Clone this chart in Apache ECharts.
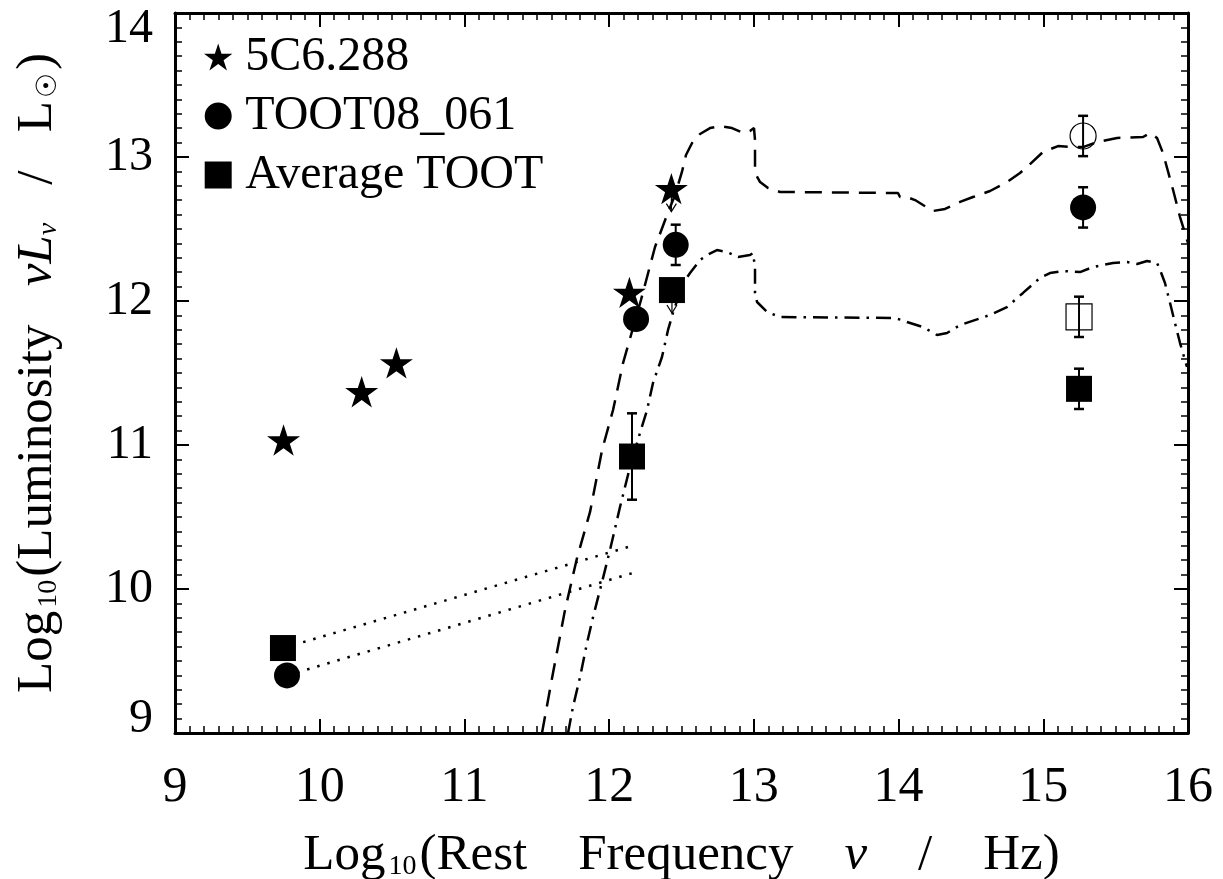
<!DOCTYPE html>
<html><head><meta charset="utf-8">
<script src="https://cdn.jsdelivr.net/npm/echarts@6/dist/echarts.min.js"></script>
<style>html,body{margin:0;padding:0;background:#fff}#c{width:1223px;height:879px}</style>
</head><body><div id="c"></div>
<script>
// ---- data ----
const xTicks = [9, 10, 11, 12, 13, 14, 15, 16];
const yTicks = [9, 10, 11, 12, 13, 14];
const legendNames = ['5C6.288', 'TOOT08_061', 'Average TOOT'];

const star5C6 = [[9.75, 11.035], [10.29, 11.37], [10.53, 11.57], [12.14, 12.06], [12.43, 12.78]];
const star5C6Limits = [[12.43, 12.78]];

const toot08 = [[9.774, 9.40], [12.186, 11.875], [12.46, 12.39], [15.275, 12.65]];
const toot08Open = [[15.275, 13.146]];
const toot08Err = [[12.46, 12.39, 0.14], [15.275, 12.65, 0.14], [15.275, 13.146, 0.14]];

const avgToot = [[9.746, 9.59], [12.158, 10.92], [12.434, 12.076], [15.247, 11.39]];
const avgTootOpen = [[15.247, 11.89]];
const avgTootErr = [[12.158, 10.92, 0.30], [15.247, 11.39, 0.14], [15.247, 11.89, 0.14]];
const avgTootLimits = [[12.434, 12.076]];

const dottedUpper = [[9.746, 9.59], [12.16, 10.30]];
const dottedLower = [[9.774, 9.40], [12.16, 10.11]];

const dashedTemplate = [[11.536,9.000],[11.612,9.417],[11.695,9.854],[11.778,10.215],[11.868,10.535],[11.951,10.965],[12.027,11.243],[12.096,11.569],[12.220,12.007],[12.317,12.375],[12.400,12.597],[12.455,12.736],[12.503,12.896],[12.531,13.014],[12.573,13.097],[12.628,13.160],[12.697,13.201],[12.766,13.215],[12.849,13.201],[12.925,13.167],[12.973,13.181],[13.001,13.201],[13.008,13.118],[13.008,12.889],[13.043,12.826],[13.098,12.785],[13.181,12.757],[13.962,12.750],[13.996,12.750],[14.010,12.722],[14.058,12.722],[14.114,12.701],[14.169,12.667],[14.238,12.625],[14.321,12.639],[14.425,12.688],[14.514,12.722],[14.632,12.764],[14.749,12.826],[14.839,12.889],[14.888,12.931],[14.998,13.035],[15.102,13.076],[15.199,13.069],[15.275,13.069],[15.371,13.104],[15.510,13.132],[15.689,13.139],[15.738,13.167],[15.786,13.132],[15.827,13.028],[15.897,12.771],[15.945,12.583],[16.0,12.403]];

const dashDotTemplate = [[11.716,9.000],[11.750,9.181],[11.799,9.389],[11.847,9.625],[11.889,9.806],[11.951,10.049],[12.006,10.271],[12.075,10.569],[12.144,10.847],[12.213,11.083],[12.262,11.243],[12.303,11.431],[12.365,11.611],[12.407,11.799],[12.441,11.917],[12.511,12.125],[12.559,12.194],[12.628,12.285],[12.676,12.319],[12.745,12.354],[12.815,12.340],[12.891,12.306],[12.973,12.319],[12.994,12.333],[13.008,12.236],[13.008,12.056],[13.022,11.993],[13.091,11.924],[13.181,11.889],[13.962,11.882],[14.024,11.868],[14.058,11.854],[14.169,11.819],[14.266,11.764],[14.335,11.778],[14.425,11.833],[14.632,11.903],[14.749,11.958],[14.860,12.056],[14.977,12.160],[15.046,12.194],[15.136,12.208],[15.254,12.201],[15.344,12.236],[15.482,12.264],[15.579,12.271],[15.648,12.257],[15.717,12.278],[15.786,12.264],[15.807,12.215],[15.841,12.125],[15.876,11.986],[15.910,11.847],[15.945,11.708],[15.993,11.542]];

// ---- styling ----
const FONT = '"Liberation Serif", "DejaVu Serif", serif';
const STAR = 'path://M100,0 L122.36,69.26 L195.11,69.1 L136.14,111.74 L158.78,180.9 L100,138 L41.22,180.9 L63.86,111.74 L4.89,69.1 L77.64,69.26 Z';
const SQUARE = 'path://M0,0 L10,0 L10,10 L0,10 Z';
const BLACK = '#000';

function renderErr(params, api) {
  const x = api.value(0), y = api.value(1), e = api.value(2);
  const top = api.coord([x, y + e]), bot = api.coord([x, y - e]);
  const w = 5;
  return { type: 'group', children: [
    { type: 'line', shape: { x1: top[0], y1: top[1], x2: bot[0], y2: bot[1] }, style: { stroke: BLACK, lineWidth: 2 } },
    { type: 'line', shape: { x1: top[0] - w, y1: top[1], x2: top[0] + w, y2: top[1] }, style: { stroke: BLACK, lineWidth: 2.5 } },
    { type: 'line', shape: { x1: bot[0] - w, y1: bot[1], x2: bot[0] + w, y2: bot[1] }, style: { stroke: BLACK, lineWidth: 2.5 } }
  ]};
}
function renderArrow(params, api) {
  const c = api.coord([api.value(0), api.value(1)]);
  const tip = c[1] + 23;
  return { type: 'group', children: [
    { type: 'line', shape: { x1: c[0], y1: c[1], x2: c[0], y2: tip }, style: { stroke: BLACK, lineWidth: 1.2 } },
    { type: 'polyline', shape: { points: [[c[0] - 5, tip - 8], [c[0], tip], [c[0] + 5, tip - 8]] }, style: { stroke: BLACK, fill: null, lineWidth: 1.2 } }
  ]};
}

const axisCommon = {
  interval: 1,
  axisLine: { show: true, onZero: false, lineStyle: { color: BLACK, width: 3 } },
  axisTick: { show: true, inside: true, length: 14, lineStyle: { color: BLACK, width: 2 } },
  minorTick: { show: true, splitNumber: 10, length: 7, lineStyle: { color: BLACK, width: 1.5 } },
  splitLine: { show: false },
  minorSplitLine: { show: false }
};
function xAx(pos, showLabel) {
  return Object.assign({}, axisCommon, {
    type: 'value', position: pos, min: xTicks[0], max: xTicks[xTicks.length - 1],
    axisLabel: { show: showLabel, color: BLACK, fontFamily: FONT, fontSize: 50, margin: 30 }
  });
}
function yAx(pos, showLabel) {
  return Object.assign({}, axisCommon, {
    type: 'value', position: pos, min: yTicks[0], max: yTicks[yTicks.length - 1],
    axisLabel: {
      show: showLabel, color: BLACK, fontFamily: FONT, fontSize: 48, margin: 22,
      formatter: v => v === yTicks[yTicks.length - 1] ? '{top|' + v + '}' : (v === yTicks[0] ? '{bot|' + v + '}' : String(v)),
      rich: {
        top: { fontFamily: FONT, fontSize: 48, color: BLACK, padding: [32, 0, 0, 0] },
        bot: { fontFamily: FONT, fontSize: 48, color: BLACK, padding: [0, 0, 28, 0] }
      }
    }
  });
}

const xName = xAx('bottom', true);
xName.name = '{n|Log}{s|10}{n|(Rest    Frequency    }{i|ν}{n|    /    Hz)}';
xName.nameLocation = 'middle';
xName.nameGap = 92;
xName.nameTextStyle = {
  rich: {
    n: { fontFamily: FONT, fontSize: 51, color: BLACK, verticalAlign: 'bottom', lineHeight: 56 },
    s: { fontFamily: FONT, fontSize: 28, color: BLACK, verticalAlign: 'bottom', lineHeight: 56, padding: [0, 3, 0, 3] },
    i: { fontFamily: FONT, fontSize: 51, fontStyle: 'italic', color: BLACK, verticalAlign: 'bottom', lineHeight: 56 }
  }
};
const yName = yAx('left', true);
yName.name = '{n|Log}{s|10}{n|(Luminosity   }{i|νL}{is|ν}{n|   /   L}{s|☉}{n|)}';
yName.nameLocation = 'middle';
yName.nameRotate = 90;
yName.nameGap = 112;
yName.nameTextStyle = {
  rich: {
    n: { fontFamily: FONT, fontSize: 51, color: BLACK, verticalAlign: 'bottom', lineHeight: 56 },
    s: { fontFamily: FONT, fontSize: 28, color: BLACK, verticalAlign: 'bottom', lineHeight: 56, padding: [0, 3, 0, 3] },
    i: { fontFamily: FONT, fontSize: 51, fontStyle: 'italic', color: BLACK, verticalAlign: 'bottom', lineHeight: 56 },
    is: { fontFamily: FONT, fontSize: 28, fontStyle: 'italic', color: BLACK, verticalAlign: 'bottom', lineHeight: 56 }
  }
};

const option = {
  backgroundColor: '#fff',
  animation: false,
  grid: { left: 175, top: 13, right: 35, bottom: 146, outerBoundsMode: 'none' },
  xAxis: [xName, xAx('top', false)],
  yAxis: [yName, yAx('right', false)],
  legend: {
    orient: 'vertical', left: 199, top: 28, itemWidth: 44, itemHeight: 27, itemGap: 11,
    selectedMode: false,
    textStyle: { fontFamily: FONT, fontSize: 48, color: BLACK, lineHeight: 48 },
    data: [
      { name: legendNames[0], icon: STAR },
      { name: legendNames[1], icon: 'circle' },
      { name: legendNames[2], icon: SQUARE }
    ]
  },
  series: [
    { type: 'line', name: 'dashed', data: dashedTemplate, symbol: 'none', silent: true, z: 2,
      lineStyle: { color: BLACK, width: 2.5, type: [17, 10] } },
    { type: 'line', name: 'dashdot', data: dashDotTemplate, symbol: 'none', silent: true, z: 2,
      lineStyle: { color: BLACK, width: 2.5, type: [15, 7, 2.5, 7] } },
    { type: 'line', name: 'dotU', data: dottedUpper, symbol: 'none', silent: true, z: 2,
      lineStyle: { color: BLACK, width: 2.5, type: [2.5, 8] } },
    { type: 'line', name: 'dotL', data: dottedLower, symbol: 'none', silent: true, z: 2,
      lineStyle: { color: BLACK, width: 2.5, type: [2.5, 8] } },
    { type: 'custom', name: 'errT', data: toot08Err, renderItem: renderErr, encode: { x: 0, y: 1 }, z: 3, silent: true },
    { type: 'custom', name: 'errA', data: avgTootErr, renderItem: renderErr, encode: { x: 0, y: 1 }, z: 3, silent: true },
    { type: 'custom', name: 'limS', data: star5C6Limits, renderItem: renderArrow, encode: { x: 0, y: 1 }, z: 3, silent: true },
    { type: 'custom', name: 'limA', data: avgTootLimits, renderItem: renderArrow, encode: { x: 0, y: 1 }, z: 3, silent: true },
    { type: 'scatter', name: legendNames[0], data: star5C6, symbol: STAR, symbolSize: 33, symbolKeepAspect: true, z: 5,
      itemStyle: { color: BLACK, opacity: 1 } },
    { type: 'scatter', name: legendNames[1], data: toot08, symbol: 'circle', symbolSize: 26, z: 5,
      itemStyle: { color: BLACK, opacity: 1 } },
    { type: 'scatter', name: 'TOOT08_061 open', data: toot08Open, symbol: 'circle', symbolSize: 26, z: 5,
      itemStyle: { color: 'rgba(0,0,0,0)', borderColor: BLACK, borderWidth: 1.2, opacity: 1 } },
    { type: 'scatter', name: legendNames[2], data: avgToot, symbol: 'rect', symbolSize: 26, z: 5,
      itemStyle: { color: BLACK, opacity: 1 } },
    { type: 'scatter', name: 'Average TOOT open', data: avgTootOpen, symbol: 'rect', symbolSize: 26, z: 5,
      itemStyle: { color: 'rgba(0,0,0,0)', borderColor: BLACK, borderWidth: 1.2, opacity: 1 } }
  ]
};
const chart = echarts.init(document.getElementById('c'), null, { renderer: 'canvas' });
chart.setOption(option);
</script>
</body></html>
